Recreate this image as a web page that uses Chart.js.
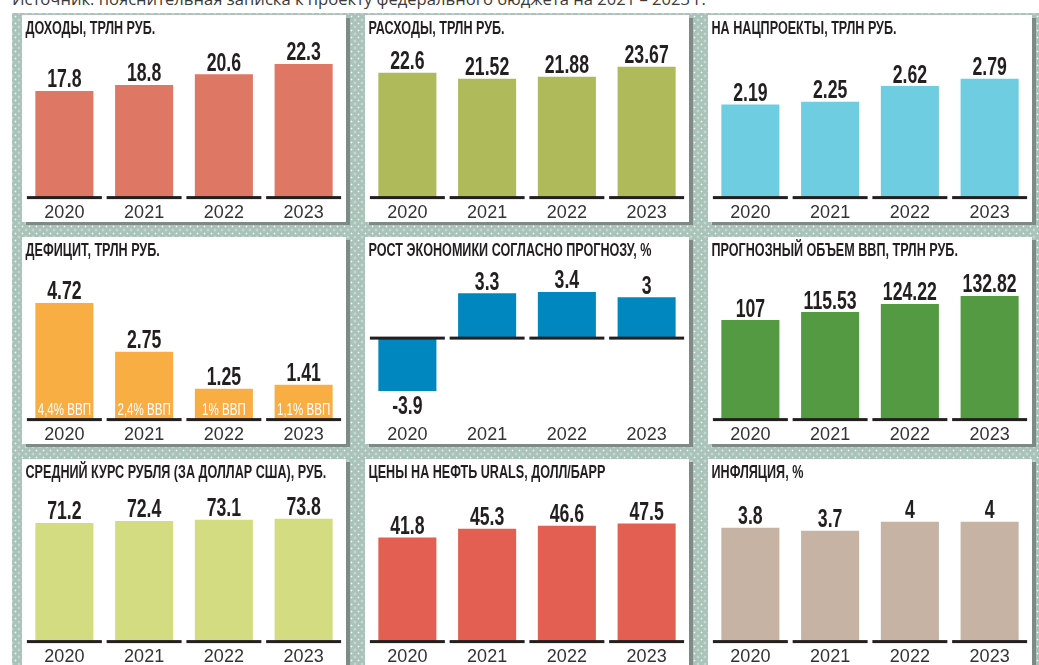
<!DOCTYPE html>
<html><head><meta charset="utf-8">
<script src="https://cdn.jsdelivr.net/npm/chart.js@4"></script>
<style>
html,body{margin:0;padding:0;background:#fff;}
body{width:1039px;height:665px;position:relative;overflow:hidden;}
#source{position:absolute;left:12px;top:-11px;font:16.6px "Open Sans",sans-serif;color:#3a3a3a;white-space:nowrap;line-height:20px;}
#bg{position:absolute;left:12px;top:13px;right:0;bottom:0;background-color:#a9c3b9;
 background-image:radial-gradient(circle, rgba(255,255,255,.85) 0.6px, rgba(255,255,255,0) 1.2px), radial-gradient(circle, rgba(255,255,255,.85) 0.6px, rgba(255,255,255,0) 1.2px);
 background-size:7px 7px;background-position:0 0,3.5px 3.5px;}
.panel{position:absolute;width:324px;height:207px;background:#fff;box-shadow:4px 3px 0 #7d8a85;}
.panel canvas{display:block;}
</style></head>
<body>
<div id="source">Источник: пояснительная записка к проекту федерального бюджета на 2021 – 2023 г.</div>
<div id="bg"></div>
<script>
const years = ['2020', '2021', '2022', '2023'];
const panelTitles = [
  'ДОХОДЫ, ТРЛН РУБ.',
  'РАСХОДЫ, ТРЛН РУБ.',
  'НА НАЦПРОЕКТЫ, ТРЛН РУБ.',
  'ДЕФИЦИТ, ТРЛН РУБ.',
  'РОСТ ЭКОНОМИКИ СОГЛАСНО ПРОГНОЗУ, %',
  'ПРОГНОЗНЫЙ ОБЪЕМ ВВП, ТРЛН РУБ.',
  'СРЕДНИЙ КУРС РУБЛЯ (ЗА ДОЛЛАР США), РУБ.',
  'ЦЕНЫ НА НЕФТЬ URALS, ДОЛЛ/БАРР',
  'ИНФЛЯЦИЯ, %'
];
const revenue = [17.8, 18.8, 20.6, 22.3];
const spending = [22.6, 21.52, 21.88, 23.67];
const nationalProjects = [2.19, 2.25, 2.62, 2.79];
const deficit = [4.72, 2.75, 1.25, 1.41];
const deficitShareOfGdp = ['4,4% ВВП', '2,4% ВВП', '1% ВВП', '1,1% ВВП'];
const economicGrowth = [-3.9, 3.3, 3.4, 3];
const gdpForecast = [107, 115.53, 124.22, 132.82];
const rubleRate = [71.2, 72.4, 73.1, 73.8];
const uralsPrice = [41.8, 45.3, 46.6, 47.5];
const inflation = [3.8, 3.7, 4, 4];

const FONT = '"Liberation Sans", Arial, sans-serif';
const TEXT = '#231f20';
const W = 324, H = 207, BASE = 182.6, TOP = 40;

const panels = [
  {title: panelTitles[0], data: revenue, color: '#de7763', min: 0, max: 23.8, left: 22, top: 15},
  {title: panelTitles[1], data: spending, color: '#afba5a', min: 0, max: 25.8, left: 365, top: 15},
  {title: panelTitles[2], data: nationalProjects, color: '#6ecde0', min: 0, max: 3.35, left: 708, top: 15},
  {title: panelTitles[3], data: deficit, color: '#f9ae44', min: 0, max: 5.77, left: 22, top: 237, inner: deficitShareOfGdp},
  {title: panelTitles[4], data: economicGrowth, color: '#0087bf', min: -6, max: 4.5, left: 365, top: 237},
  {title: panelTitles[5], data: gdpForecast, color: '#539a43', min: 0, max: 153.2, left: 708, top: 237},
  {title: panelTitles[6], data: rubleRate, color: '#d4dc82', min: 0, max: 85.6, left: 22, top: 459},
  {title: panelTitles[7], data: uralsPrice, color: '#e35f52', min: 0, max: 57.3, left: 365, top: 459},
  {title: panelTitles[8], data: inflation, color: '#c6b3a3', min: 0, max: 4.76, left: 708, top: 459}
];

function drawCondensed(ctx, text, x, y, sx) {
  ctx.save();
  ctx.translate(x, y);
  ctx.scale(sx, 1);
  ctx.fillText(text, 0, 0);
  ctx.restore();
}

const decorPlugin = {
  id: 'decor',
  afterDatasetsDraw(chart, args, opts) {
    const ctx = chart.ctx;
    const xs = chart.scales.x, ys = chart.scales.y;
    const meta = chart.getDatasetMeta(0);
    const vals = chart.data.datasets[0].data;
    const y0 = ys.getPixelForValue(0);
    const cw = xs.width / chart.data.labels.length;
    ctx.save();
    ctx.fillStyle = TEXT;
    meta.data.forEach(bar => {
      ctx.fillRect(bar.x - cw * 0.47, y0 - 1.5, cw * 0.94, 3);
    });
    ctx.font = 'bold 26px ' + FONT;
    ctx.textAlign = 'center';
    ctx.textBaseline = 'alphabetic';
    meta.data.forEach((bar, i) => {
      const v = vals[i];
      const ty = v >= 0 ? bar.y - 3.5 : bar.y + 4.5 + 18.6;
      drawCondensed(ctx, String(v), bar.x, ty, 0.68);
    });
    if (opts.inner) {
      ctx.fillStyle = '#ffffff';
      ctx.font = '17px ' + FONT;
      meta.data.forEach((bar, i) => {
        drawCondensed(ctx, opts.inner[i], bar.x, y0 - 4.6, 0.68);
      });
    }
    ctx.fillStyle = TEXT;
    ctx.textAlign = 'left';
    ctx.font = 'bold 17.5px ' + FONT;
    drawCondensed(ctx, opts.title, 3.5, 18.5, 0.72);
    ctx.restore();
  }
};

panels.forEach(p => {
  const div = document.createElement('div');
  div.className = 'panel';
  div.style.left = p.left + 'px';
  div.style.top = p.top + 'px';
  const cv = document.createElement('canvas');
  cv.width = W; cv.height = H;
  div.appendChild(cv);
  document.body.appendChild(div);
  new Chart(cv, {
    type: 'bar',
    data: {
      labels: years,
      datasets: [{data: p.data, backgroundColor: p.color, borderWidth: 0, barPercentage: 0.728, categoryPercentage: 1}]
    },
    options: {
      responsive: false,
      animation: false,
      devicePixelRatio: 1,
      layout: {padding: {top: TOP, left: 2.5, right: 2.5, bottom: 0}},
      plugins: {
        legend: {display: false},
        tooltip: {enabled: false},
        decor: {title: p.title, inner: p.inner}
      },
      scales: {
        x: {
          grid: {display: false, drawTicks: false},
          border: {display: false},
          ticks: {font: {family: FONT, size: 18}, color: '#333333', padding: 5, maxRotation: 0, autoSkip: false},
          afterFit: s => { s.height = H - BASE; }
        },
        y: {display: false, min: p.min, max: p.max}
      }
    },
    plugins: [decorPlugin]
  });
});
</script>
</body></html>
